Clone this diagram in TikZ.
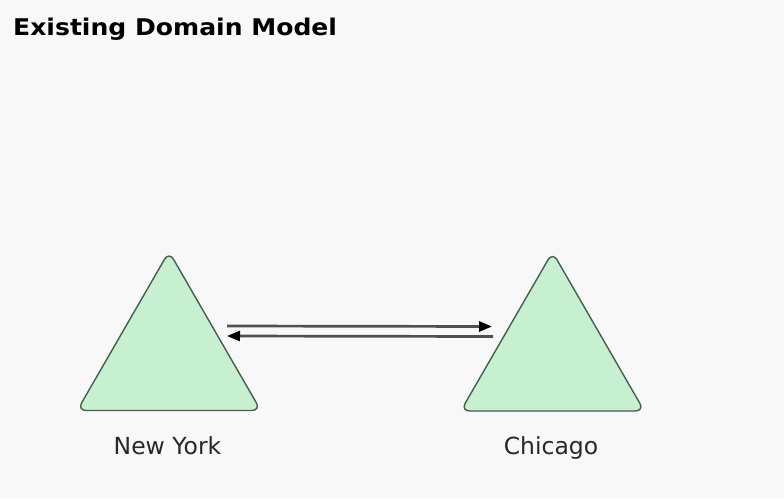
\documentclass[tikz,border=0pt]{standalone}
\usepackage{fontspec}
\usepackage{graphicx}
\setmainfont{DejaVu Sans}
\usetikzlibrary{shapes.geometric,arrows.meta,calc}
\definecolor{bgc}{RGB}{248,248,248}
\definecolor{trifill}{RGB}{198,240,208}
\definecolor{triedge}{RGB}{72,92,80}
\definecolor{linec}{RGB}{80,80,80}
\definecolor{txtc}{RGB}{40,40,40}
\tikzset{
  tri/.style={regular polygon, regular polygon sides=3, minimum size=212pt,
    inner sep=0pt, outer sep=0pt, draw=triedge, line width=1.4pt,
    fill=trifill, rounded corners=9pt},
  lbl/.style={font=\fontsize{23.5}{27}\selectfont, text=txtc, inner sep=0pt, anchor=base},
  conn/.style={draw=linec, line width=2.7pt,
    -{Triangle[length=13pt,width=10pt,color=black]}},
}
\begin{document}
\begin{tikzpicture}[x=1pt,y=-1pt]
  \fill[bgc] (0,0) rectangle (784,498);
  \useasboundingbox (0,0) rectangle (784,498);
  \node[anchor=base west, inner sep=0pt, text=black] (title) at (13,35)
    {\scalebox{1.09}[1]{\fontsize{23}{27}\selectfont\bfseries Existing Domain Model}};
  \node[tri] (L) at (169,357.5) {};
  \node[tri] (R) at (552.5,358) {};
  \node[lbl] (ny) at (167.5,454) {New York};
  \node[lbl] (chi) at (551,454) {Chicago};
  \draw[conn] ([shift={(58,-31.5)}]L.center) -- ([shift={(-60.5,-31.5)}]R.center);
  \draw[conn] ([shift={(-59.5,-21.5)}]R.center) -- ([shift={(58,-21.5)}]L.center);
\end{tikzpicture}
\end{document}
